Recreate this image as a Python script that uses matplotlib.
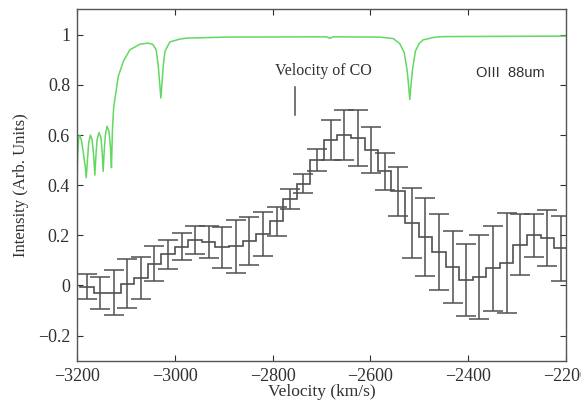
import numpy as np
import matplotlib
matplotlib.use("Agg")
import matplotlib.pyplot as plt

# binned spectrum (channel centres, km/s) with 1-sigma errors
velocity = [-3180, -3152, -3125, -3097, -3069, -3042, -3014, -2986, -2958, -2931,
            -2903, -2875, -2848, -2820, -2792, -2765, -2737, -2709, -2681, -2654,
            -2626, -2598, -2571, -2543, -2515, -2488, -2460, -2432, -2405, -2377,
            -2349, -2321, -2294, -2266, -2238, -2211]
intensity = [-0.006, -0.031, -0.030, 0.006, 0.031, 0.087, 0.125, 0.155, 0.180, 0.175,
             0.152, 0.156, 0.177, 0.206, 0.256, 0.343, 0.406, 0.500, 0.580, 0.602,
             0.590, 0.540, 0.455, 0.376, 0.250, 0.193, 0.133, 0.074, 0.022, 0.034,
             0.068, 0.089, 0.162, 0.200, 0.188, 0.148]
errors = [0.050, 0.064, 0.090, 0.098, 0.084, 0.070, 0.058, 0.055, 0.056, 0.064,
          0.083, 0.107, 0.096, 0.087, 0.057, 0.040, 0.037, 0.045, 0.081, 0.100,
          0.112, 0.092, 0.073, 0.098, 0.139, 0.156, 0.153, 0.145, 0.144, 0.169,
          0.171, 0.200, 0.122, 0.085, 0.111, 0.130]

# atmospheric transmission curve (green)
atm_velocity = [-3200, -3198.5, -3196.5, -3194.5, -3191, -3187, -3183, -3181,
                -3179, -3176, -3172.5, -3169, -3166, -3163.5,
                -3161.5, -3159, -3155, -3151, -3148.5, -3146.5,
                -3144.5, -3142, -3138.5, -3134.5, -3131.5, -3129.5,
                -3127.5, -3125, -3119, -3115.5, -3105, -3092, -3071, -3055, -3045,
                -3038, -3034, -3031, -3028.5, -3026, -3023.5, -3020, -3010, -2990,
                -2976, -2894, -2690, -2683, -2676, -2580, -2553, -2540, -2531,
                -2525, -2522, -2519.5, -2517, -2514, -2508, -2500, -2492, -2470,
                -2451, -2200]
atm_trans = [0.40, 0.52, 0.59, 0.60, 0.58, 0.53, 0.47, 0.43,
             0.49, 0.57, 0.60, 0.58, 0.52, 0.44,
             0.51, 0.58, 0.61, 0.59, 0.53, 0.455,
             0.53, 0.60, 0.635, 0.615, 0.55, 0.47,
             0.62, 0.71, 0.79, 0.835, 0.895, 0.94, 0.963, 0.967, 0.962,
             0.94, 0.88, 0.81, 0.748, 0.81, 0.88, 0.935, 0.972, 0.983,
             0.987, 0.991, 0.992, 0.986, 0.992, 0.991, 0.985, 0.965, 0.93,
             0.86, 0.80, 0.742, 0.80, 0.86, 0.935, 0.966, 0.98, 0.99,
             0.993, 0.995]

co_velocity = -2754
yticks = [-0.2, 0, 0.2, 0.4, 0.6, 0.8, 1]
ytick_labels = ["\u22120.2", "0", "0.2", "0.4", "0.6", "0.8", "1"]

plt.rcParams["font.family"] = ["Liberation Serif", "DejaVu Serif"]
plt.rcParams["mathtext.fontset"] = "stix"

fig = plt.figure(figsize=(5.81, 4.01), dpi=100)
ax = fig.add_axes([0.1325, 0.0998, 0.8417, 0.8770])

grey = "#505050"
v = np.array(velocity, dtype=float)
half = np.diff(v) / 2
edges = np.concatenate([[v[0] - half[0]], v[:-1] + half, [v[-1] + half[-1]]])
ax.stairs(intensity, edges, color=grey, lw=1.2)
ax.errorbar(velocity, intensity, yerr=errors, fmt="none", ecolor=grey,
            elinewidth=1.1, capsize=7, capthick=1.1)

ax.plot(atm_velocity, atm_trans, color="#62d862", lw=1.1)

ax.plot([co_velocity, co_velocity], [0.68, 0.79], color=grey, lw=1.1)
ax.text(-2697, 0.855, "Velocity of CO", ha="center", va="center", fontsize=11.5,
        color="#303030")
ax.text(-2314, 0.849, "OIII  88um", ha="center", va="center", fontsize=10.5,
        family=["Liberation Sans", "DejaVu Sans"], color="#303030")

ax.set_xlim(-3200, -2200)
ax.set_ylim(-0.3016, 1.102)
ax.set_xticks([-3200, -3000, -2800, -2600, -2400, -2200])
ax.set_yticks(yticks)
ax.set_yticklabels(ytick_labels)
ax.tick_params(direction="in", top=True, right=True, length=4, width=0.8,
               labelsize=13, colors="#303030", pad=5)
for s in ax.spines.values():
    s.set_color("#555555")
    s.set_linewidth(1.0)

ax.set_xlabel("Velocity (km/s)", fontsize=12.5, labelpad=-1, color="#303030")
ax.set_ylabel("Intensity (Arb. Units)", fontsize=12, labelpad=6, color="#303030")

fig.savefig("out.png", dpi=100)
